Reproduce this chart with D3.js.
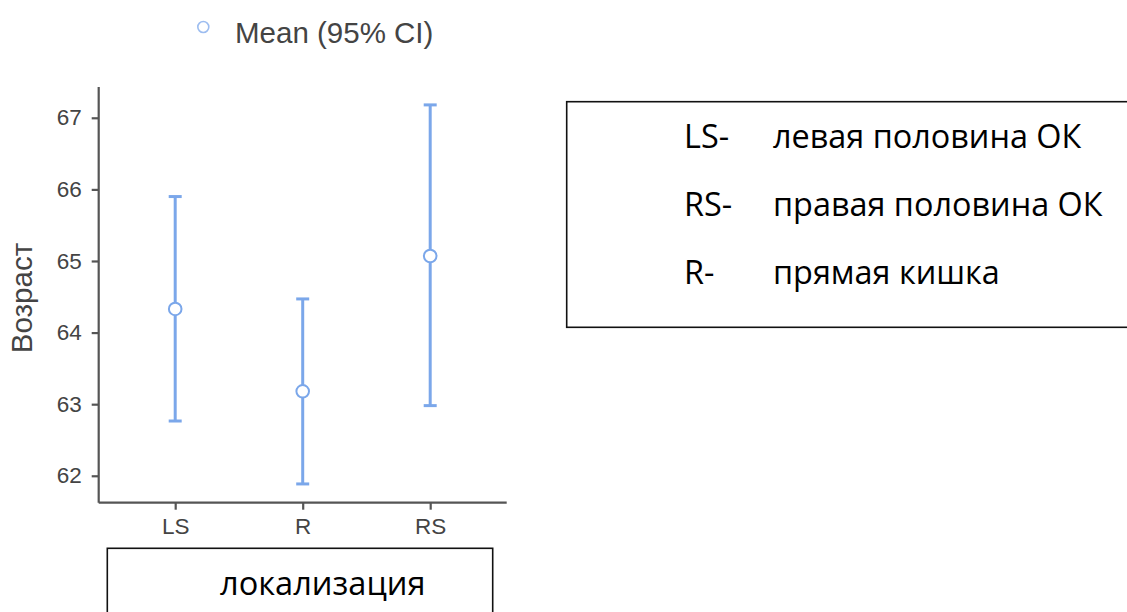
<!DOCTYPE html>
<html>
<head>
<meta charset="utf-8">
<script src="https://cdn.jsdelivr.net/npm/d3@7"></script>
<style>
  html, body { margin: 0; padding: 0; background: #fff; }
  svg { display: block; }
</style>
</head>
<body>
<svg id="chart" width="1127" height="612"></svg>
<script>
// Age by tumour location: mean with 95% confidence interval
const categories = ["LS", "R", "RS"];
const means = [64.33, 63.18, 65.07];
const lowerCI = [62.765, 61.886, 62.98];
const upperCI = [65.90, 64.47, 67.18];
const yTicks = [62, 63, 64, 65, 66, 67];
const legendLabel = "Mean (95% CI)";
const yTitle = "Возраст";
const xTitle = "локализация";
const keyCodes = ["LS-", "RS-", "R-"];
const keyNames = ["левая половина ОК", "правая половина ОК", "прямая кишка"];

const svg = d3.select("#chart");
const axisFont = "'Liberation Sans', Arial, sans-serif";
const boxFont = "'Open Sans', 'Noto Sans', sans-serif";
const barColor = "#7ba7ea";
const axisColor = "#555";
const textColor = "#444";

const plotLeft = 98.7, plotRight = 506.7, plotTop = 87, plotBottom = 502.7;

const x = d3.scalePoint().domain(categories).range([plotLeft, plotRight]).padding(0.6);
const y = d3.scaleLinear().domain([61.624, 67.43]).range([plotBottom, plotTop]);

// y axis
const gy = svg.append("g").attr("transform", `translate(${plotLeft},0)`)
  .call(d3.axisLeft(y).tickValues(yTicks).tickSize(7).tickPadding(10).tickFormat(d3.format("d")));
// x axis
const gx = svg.append("g").attr("transform", `translate(0,${plotBottom})`)
  .call(d3.axisBottom(x).tickSize(7).tickPadding(8));

[gx, gy].forEach(g => {
  g.select(".domain").attr("stroke", axisColor).attr("stroke-width", 2.2);
  g.selectAll(".tick line").attr("stroke", axisColor).attr("stroke-width", 2.2);
  g.selectAll(".tick text").attr("fill", textColor)
    .style("font-family", axisFont).style("font-size", "22.5px");
});
// flat-ended axis lines (no outer ticks)
gy.select(".domain").attr("d", `M0,${plotTop}V${plotBottom}`);
gx.select(".domain").attr("d", `M${plotLeft},0H${plotRight}`);

const rows = categories.map((c, i) => ({ c, m: means[i], lo: lowerCI[i], hi: upperCI[i] }));

// error bars
const bars = svg.append("g");
bars.selectAll("line.ci").data(rows).join("line")
  .attr("class", "ci")
  .attr("x1", d => x(d.c)).attr("x2", d => x(d.c))
  .attr("y1", d => y(d.lo)).attr("y2", d => y(d.hi))
  .attr("stroke", barColor).attr("stroke-width", 3);
const capW = 6.5;
["lo", "hi"].forEach(k => {
  bars.selectAll("line.cap-" + k).data(rows).join("line")
    .attr("class", "cap-" + k)
    .attr("x1", d => x(d.c) - capW).attr("x2", d => x(d.c) + capW)
    .attr("y1", d => y(d[k])).attr("y2", d => y(d[k]))
    .attr("stroke", barColor).attr("stroke-width", 3);
});
bars.selectAll("circle").data(rows).join("circle")
  .attr("cx", d => x(d.c)).attr("cy", d => y(d.m)).attr("r", 6.3)
  .attr("fill", "#fff").attr("stroke", barColor).attr("stroke-width", 2);

// legend
svg.append("circle").attr("cx", 203.3).attr("cy", 27).attr("r", 5.5)
  .attr("fill", "#fff").attr("stroke", "#9dbdf0").attr("stroke-width", 1.6);
svg.append("text").attr("x", 235).attr("y", 43).text(legendLabel)
  .attr("fill", textColor).style("font-family", axisFont).style("font-size", "29.5px");

// y title
svg.append("text").attr("transform", "translate(32,298) rotate(-90)")
  .attr("text-anchor", "middle").text(yTitle)
  .attr("fill", textColor).style("font-family", axisFont).style("font-size", "29.5px");

// x title box
svg.append("rect").attr("x", 107.3).attr("y", 548.3).attr("width", 385.4).attr("height", 80)
  .attr("fill", "none").attr("stroke", "#111").attr("stroke-width", 1.6);
svg.append("text").attr("x", 220).attr("y", 595).text(xTitle)
  .attr("fill", "#000").style("font-family", boxFont).style("font-size", "32.6px");

// abbreviation key box
svg.append("rect").attr("x", 566.7).attr("y", 101.7).attr("width", 600).attr("height", 225.6)
  .attr("fill", "none").attr("stroke", "#111").attr("stroke-width", 1.6);
const keyBaselines = [148.3, 216.3, 284.3];
keyCodes.forEach((code, i) => {
  svg.append("text").attr("x", 684).attr("y", keyBaselines[i]).text(code)
    .attr("fill", "#000").style("font-family", boxFont).style("font-size", "32.4px");
  svg.append("text").attr("x", 773).attr("y", keyBaselines[i]).text(keyNames[i])
    .attr("fill", "#000").style("font-family", boxFont).style("font-size", "32.4px");
});
</script>
</body>
</html>
